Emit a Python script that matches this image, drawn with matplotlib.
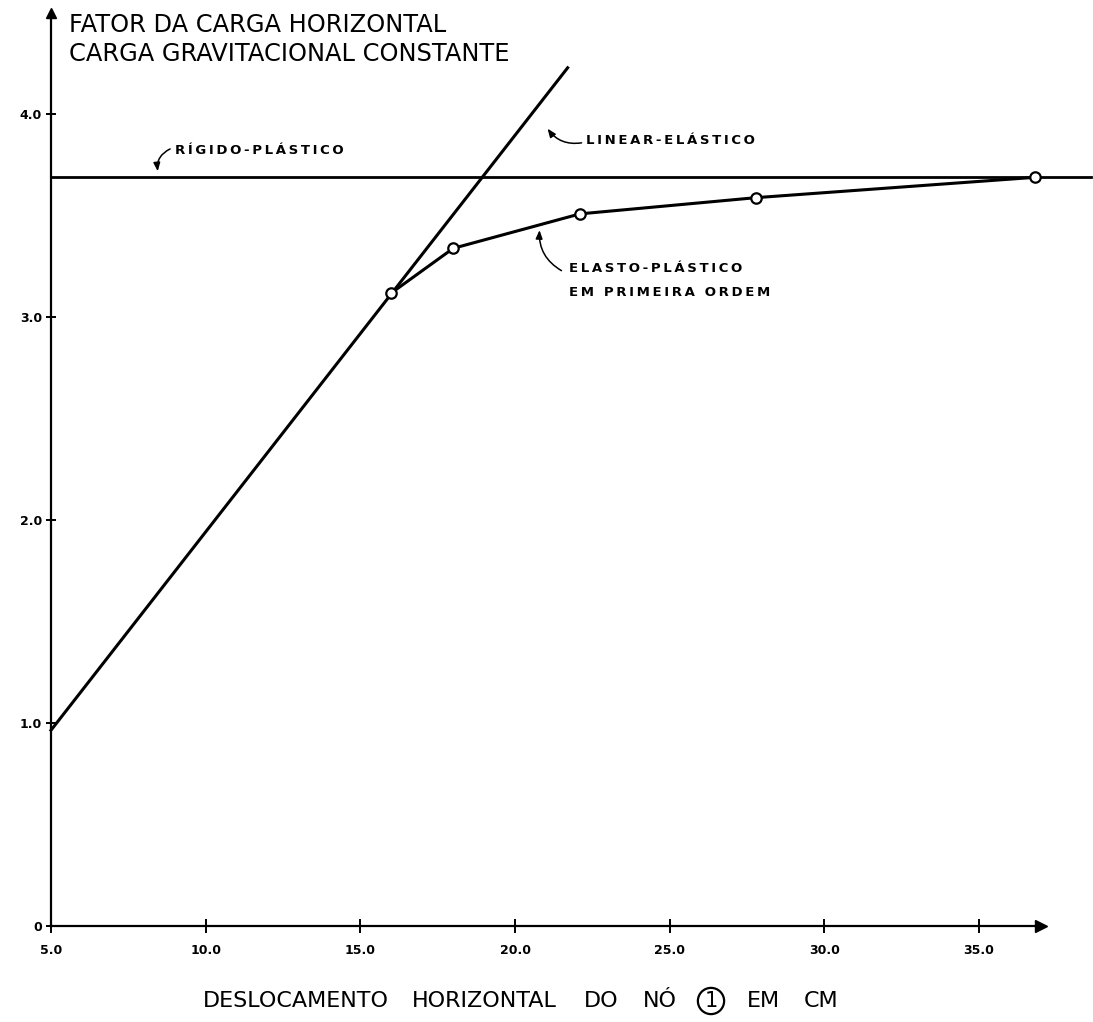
import matplotlib
matplotlib.use("Agg")
import matplotlib.pyplot as plt

# --- dados ---
desloc_ep = [16.0, 18.0, 22.1, 27.8, 36.8]        # elasto-plástico em primeira ordem
fator_ep = [3.12, 3.34, 3.51, 3.59, 3.69]

desloc_le = [5.0, 21.7]                           # linear-elástico
fator_le = [0.965, 4.23]

desloc_rp = [5.0, 38.6]                           # rígido-plástico
fator_rp = [3.69, 3.69]

xticks = [5, 10, 15, 20, 25, 30, 35]
xticklabels = ["5.0", "10.0", "15.0", "20.0", "25.0", "30.0", "35.0"]
yticks = [0, 1, 2, 3, 4]
yticklabels = ["0", "1.0", "2.0", "3.0", "4.0"]


def spaced(s):
    # letreiro técnico: letras mais afastadas
    return "\u2009".join(s)


W, H = 1093, 1022
fig = plt.figure(figsize=(W / 100, H / 100), dpi=100)
ax = fig.add_axes([51 / W, 96 / H, 990 / W, 913 / H])
ax.set_xlim(5, 37.0)
ax.set_ylim(0, 4.5)

for s in ["top", "right"]:
    ax.spines[s].set_visible(False)
for s in ["left", "bottom"]:
    ax.spines[s].set_linewidth(1.6)

# setas dos eixos
ax.plot(1, 0, ">k", ms=9, transform=ax.transAxes, clip_on=False)
ax.plot(0, 1, "^k", ms=7, transform=ax.transAxes, clip_on=False)

ax.set_xticks(xticks)
ax.set_xticklabels(xticklabels, fontsize=9, fontweight="bold")
ax.set_yticks(yticks)
ax.set_yticklabels(yticklabels, fontsize=9, fontweight="bold")
ax.tick_params(axis="x", direction="inout", length=10, width=1.4, pad=8)
ax.tick_params(axis="y", direction="inout", length=7, width=1.4, pad=3)

# curvas
ax.plot(desloc_rp, fator_rp, color="k", lw=2.0, clip_on=False)
ax.plot(desloc_le, fator_le, color="k", lw=2.2, clip_on=False)
ax.plot(desloc_ep, fator_ep, color="k", lw=2.2, marker="o", ms=7.5,
        mfc="white", mec="k", mew=1.6, clip_on=False, zorder=3)

# rótulos das curvas
arrow = dict(arrowstyle="-|>,head_length=0.5,head_width=0.2", color="k", lw=1.1,
             shrinkA=0, shrinkB=0)
lbl = dict(fontsize=9.5, fontweight="bold", va="center", ha="left")

ax.annotate("", xy=(8.45, 3.72), xytext=(8.85, 3.83),
            arrowprops=dict(arrow, connectionstyle="arc3,rad=0.35"))
ax.text(9.0, 3.82, spaced("RÍGIDO-PLÁSTICO"), **lbl)

ax.annotate("", xy=(21.05, 3.93), xytext=(22.15, 3.86),
            arrowprops=dict(arrow, connectionstyle="arc3,rad=-0.3"))
ax.text(22.3, 3.87, spaced("LINEAR-ELÁSTICO"), **lbl)

ax.annotate("", xy=(20.79, 3.43), xytext=(21.5, 3.23),
            arrowprops=dict(arrow, connectionstyle="arc3,rad=-0.3"))
ax.text(21.75, 3.24, spaced("ELASTO-PLÁSTICO"), **lbl)
ax.text(21.75, 3.12, spaced("EM PRIMEIRA ORDEM"), **lbl)

# títulos
fig.text(69 / W, 1 - 25 / H, "FATOR DA CARGA HORIZONTAL", fontsize=17.4, va="center", ha="left")
fig.text(69 / W, 1 - 54 / H, "CARGA GRAVITACIONAL CONSTANTE", fontsize=17.4, va="center", ha="left")

# legenda do eixo x, palavra a palavra
yl = 1 - 1001 / H
fs = 16
fig.text(203 / W, yl, "DESLOCAMENTO", fontsize=fs, va="center", ha="left")
fig.text(412 / W, yl, "HORIZONTAL", fontsize=fs, va="center", ha="left")
fig.text(584 / W, yl, "DO", fontsize=fs, va="center", ha="left")
fig.text(677 / W, yl, "NÓ", fontsize=fs, va="center", ha="right")
fig.text(711 / W, yl, "1", fontsize=15, va="center", ha="center",
         bbox=dict(boxstyle="circle,pad=0.15", fc="none", ec="k", lw=1.6))
fig.text(747 / W, yl, "EM", fontsize=fs, va="center", ha="left")
fig.text(838 / W, yl, "CM", fontsize=fs, va="center", ha="right")

fig.savefig("out.png", dpi=100)
